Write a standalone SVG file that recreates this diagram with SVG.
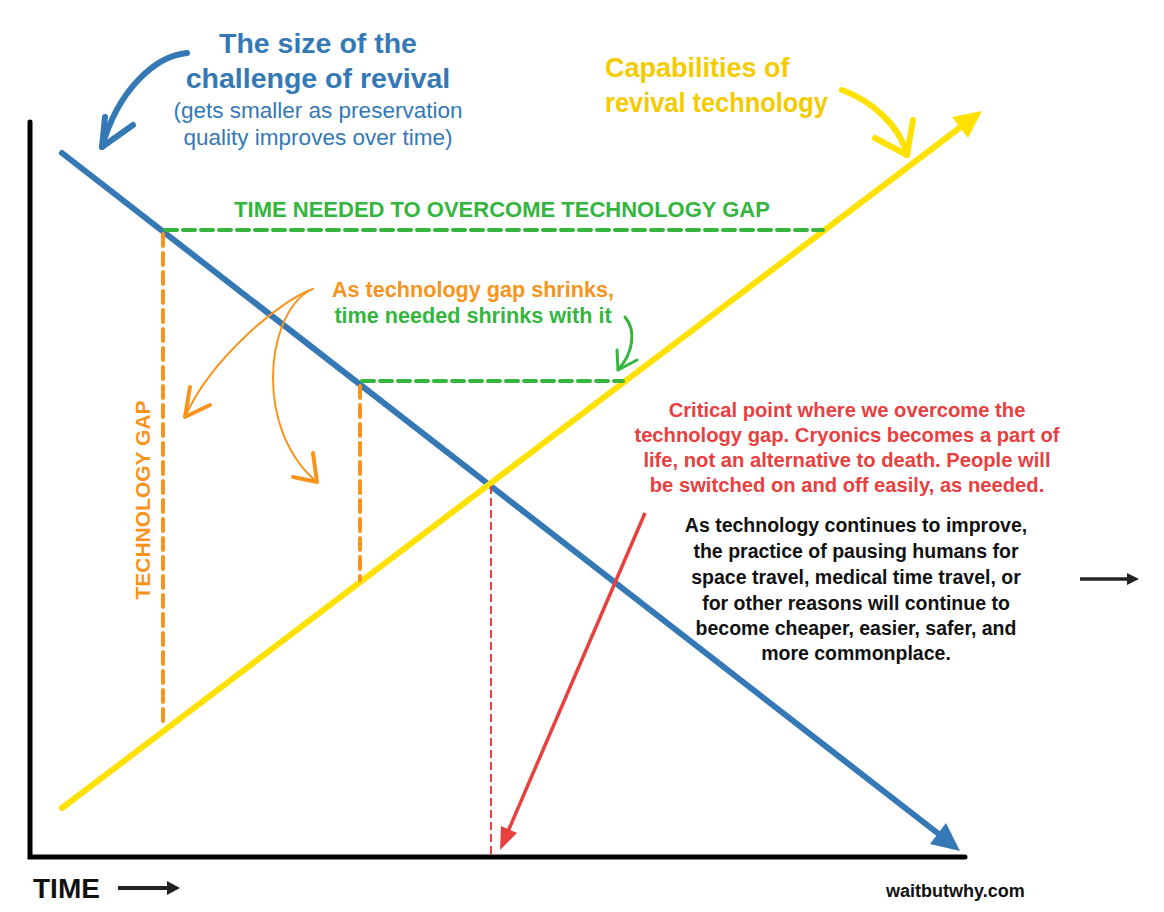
<svg xmlns="http://www.w3.org/2000/svg" width="1164" height="912" viewBox="0 0 1164 912">
  <style>
    text { font-family: "Liberation Sans", Arial, Helvetica, sans-serif; font-weight: bold; }
    .blue { fill: #3479b5; }
    .yellow { fill: #f3cb00; }
    .green { fill: #34b53d; }
    .orange { fill: #f7941d; }
    .red { fill: #e8403f; }
    .black { fill: #111111; }
    .regular { font-weight: normal; }
    .axis { stroke: #000; stroke-width: 5; stroke-linecap: round; fill: none; }
    .trend-blue { stroke: #3479b5; stroke-width: 6; stroke-linecap: round; fill: none; }
    .trend-yellow { stroke: #ffe100; stroke-width: 6; stroke-linecap: round; fill: none; }
    .dash-green { stroke: #34b53d; stroke-width: 4; stroke-dasharray: 12 6; stroke-linecap: round; fill: none; }
    .dash-orange { stroke: #f7941d; stroke-width: 4; stroke-dasharray: 12 7; stroke-linecap: round; fill: none; }
    .dash-red { stroke: #e8403f; stroke-width: 2; stroke-dasharray: 8 4; fill: none; }
    .hand { fill: none; stroke-linecap: round; stroke-linejoin: round; }
  </style>

  <!-- chart axes -->
  <g id="axes">
    <path class="axis" d="M30,122 L30,857 L965,857"/>
  </g>

  <!-- the two trend lines with their arrowheads -->
  <g id="challenge-line">
    <path class="trend-blue" d="M62,153 L940,835"/>
    <polygon fill="#3479b5" points="960,851 930,844 946,823"/>
  </g>
  <g id="capability-line">
    <path class="trend-yellow" d="M62,808 L962,126"/>
    <polygon fill="#ffe100" points="982,111 952,117 968,138"/>
  </g>

  <!-- gap markers -->
  <g id="gap-markers">
    <path class="dash-green" d="M165,230 L823,230"/>
    <path class="dash-green" d="M362,381 L623,381"/>
    <path class="dash-orange" d="M163,234 L163,727"/>
    <path class="dash-orange" d="M360,386 L360,580"/>
    <path class="dash-red" d="M491,486 L491,855"/>
  </g>

  <!-- annotation arrows -->
  <g id="connectors">
    <g id="blue-pointer" class="hand" stroke="#3479b5" stroke-width="6">
      <path d="M187,53 C155,56 118,90 102,147"/>
      <path d="M105,117 L102,147 L133,125"/>
    </g>
    <g id="yellow-pointer" class="hand" stroke="#ffe100" stroke-width="6">
      <path d="M842,90 C870,100 900,125 907,155"/>
      <path d="M913,120 L907,155 L875,138"/>
    </g>
    <g id="orange-pointers" class="hand" stroke="#f7941d">
      <path stroke-width="2" d="M313,289 C280,300 210,360 185,417"/>
      <path stroke-width="4" d="M190,387 L185,417 L210,405"/>
      <path stroke-width="2" d="M307,292 C265,320 255,430 317,482"/>
      <path stroke-width="4" d="M313,453 L317,482 L293,477"/>
    </g>
    <g id="green-pointer" class="hand" stroke="#34b53d" stroke-width="3">
      <path d="M625,317 C636,330 634,352 618,370"/>
      <path d="M617,350 L618,370 L637,360"/>
    </g>
    <g id="red-pointer">
      <path d="M645,513 L506,836" stroke="#e8403f" stroke-width="3.5" fill="none"/>
      <polygon fill="#e8403f" points="500,850 501,826 517,833"/>
    </g>
    <g id="future-arrow">
      <path d="M1080,579 L1128,579" stroke="#222" stroke-width="3.5" fill="none"/>
      <polygon fill="#222" points="1139,579 1127,573 1127,585"/>
    </g>
    <g id="time-arrow">
      <path d="M118,888 L168,888" stroke="#222" stroke-width="4" fill="none"/>
      <polygon fill="#222" points="180,888 167,881 167,895"/>
    </g>
  </g>

  <!-- labels -->
  <g id="challenge-label" text-anchor="middle">
    <text class="blue" x="318" y="53" font-size="28.5">The size of the</text>
    <text class="blue" x="318" y="88" font-size="28.5">challenge of revival</text>
    <text class="blue regular" x="318" y="118" font-size="22.5">(gets smaller as preservation</text>
    <text class="blue regular" x="318" y="145" font-size="22.5">quality improves over time)</text>
  </g>
  <g id="capability-label">
    <text class="yellow" x="605" y="77" font-size="27">Capabilities of</text>
    <text class="yellow" x="605" y="112" font-size="27" textLength="223" lengthAdjust="spacingAndGlyphs">revival technology</text>
  </g>
  <g id="time-needed-label">
    <text class="green" x="502" y="217" font-size="22" text-anchor="middle">TIME NEEDED TO OVERCOME TECHNOLOGY GAP</text>
  </g>
  <g id="shrink-label" text-anchor="middle">
    <text class="orange" x="473" y="297" font-size="21.6">As technology gap shrinks,</text>
    <text class="green" x="473" y="323" font-size="21.6">time needed shrinks with it</text>
  </g>
  <g id="gap-label">
    <text class="orange" font-size="21" text-anchor="middle" transform="translate(150,500) rotate(-90)">TECHNOLOGY GAP</text>
  </g>
  <g id="critical-label" text-anchor="middle" font-size="20.2">
    <text class="red" x="847" y="417">Critical point where we overcome the</text>
    <text class="red" x="847" y="442">technology gap. Cryonics becomes a part of</text>
    <text class="red" x="847" y="467">life, not an alternative to death. People will</text>
    <text class="red" x="847" y="492">be switched on and off easily, as needed.</text>
  </g>
  <g id="future-label" text-anchor="middle" font-size="19.5">
    <text class="black" x="856" y="532">As technology continues to improve,</text>
    <text class="black" x="856" y="558">the practice of pausing humans for</text>
    <text class="black" x="856" y="584">space travel, medical time travel, or</text>
    <text class="black" x="856" y="610">for other reasons will continue to</text>
    <text class="black" x="856" y="635">become cheaper, easier, safer, and</text>
    <text class="black" x="856" y="660">more commonplace.</text>
  </g>
  <g id="axis-label">
    <text class="black" x="33" y="898" font-size="28">TIME</text>
  </g>
  <g id="credit">
    <text class="black" x="886" y="897" font-size="18">waitbutwhy.com</text>
  </g>
</svg>
